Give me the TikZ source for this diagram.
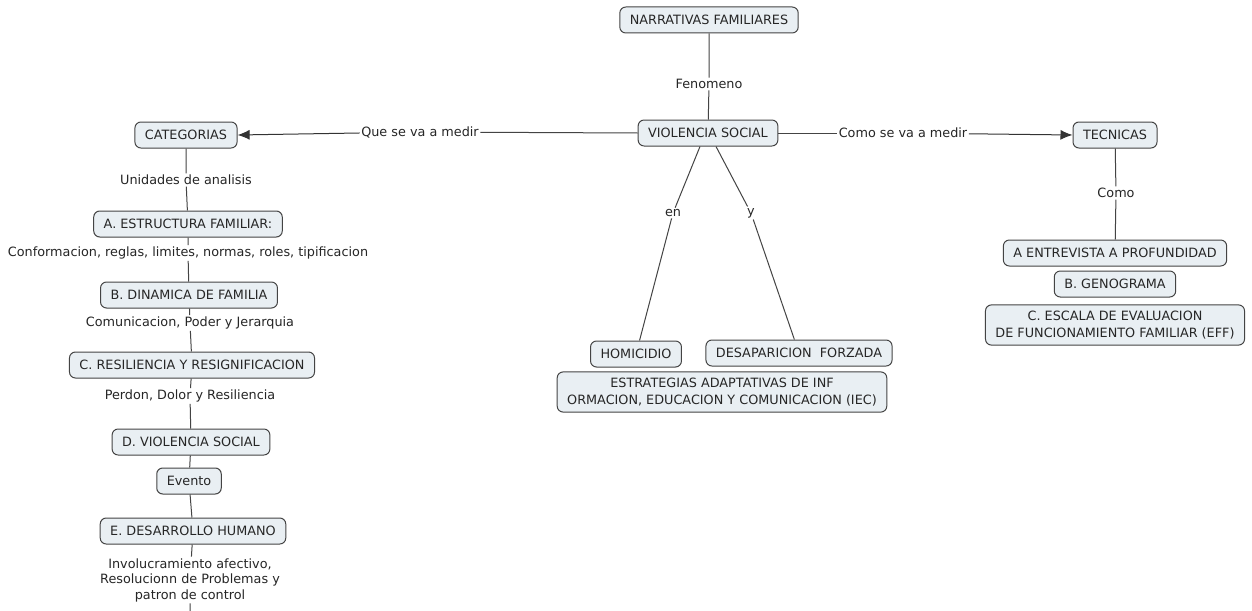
\documentclass[tikz,border=0pt]{standalone}
\usepackage{fontspec}
\setmainfont{DejaVu Sans}
\usetikzlibrary{arrows.meta}
\definecolor{boxfill}{HTML}{E9EFF3}
\definecolor{boxline}{HTML}{444444}
\begin{document}
\begin{tikzpicture}[x=1pt,y=-1pt,
  concept/.style={draw=boxline,fill=boxfill,rounded corners=6pt,line width=1pt,
    inner xsep=10pt,inner ysep=2pt,minimum height=26pt,align=center,text=black!85,font=\fontsize{12.8}{17}\selectfont},
  twoline/.style={inner ysep=6pt},
  linklabel/.style={fill=white,inner sep=1.5pt,align=center,text=black!85,font=\fontsize{12.8}{15.5}\selectfont},
  link/.style={draw=boxline,line width=1pt},
  tip/.style={-{Latex[length=12pt,width=10pt]},draw=black!80}]
\useasboundingbox[fill=white] (0,0) rectangle (1252,610);
% centre
\node[concept] (nf) at (709,20) {NARRATIVAS FAMILIARES};
\node[concept] (vs) at (708,133) {VIOLENCIA SOCIAL};
\node[linklabel] (fen) at (709,84) {Fenomeno};
\draw[link] (nf) -- (fen) -- (vs);
\node[concept] (hom) at (636,354) {HOMICIDIO};
\node[concept] (des) at (799,353) {DESAPARICION\ \ FORZADA};
\node[concept,twoline] (iec) at (722,392) {ESTRATEGIAS ADAPTATIVAS DE INF\\ORMACION, EDUCACION Y COMUNICACION (IEC)};
\node[linklabel] (en) at (673,213) {en};
\node[linklabel] (yy) at (751,213) {y};
\draw[link] ([xshift=-8pt]vs.south) -- (en) -- (hom);
\draw[link] ([xshift=8pt]vs.south) -- (yy) -- (des);
% left column
\node[concept] (cat) at (186,135) {CATEGORIAS};
\node[linklabel] (que) at (420,132) {Que se va a medir};
\draw[link] (vs.west) -- (que);
\draw[link,tip] (que) -- (cat.east);
\node[linklabel] (uni) at (186,180) {Unidades de analisis};
\node[concept] (est) at (188,224) {A. ESTRUCTURA FAMILIAR:};
\node[linklabel] (conf) at (188,253) {Conformacion, reglas, limites, normas, roles, tipificacion};
\node[concept] (din) at (189,295) {B. DINAMICA DE FAMILIA};
\node[linklabel] (com) at (190,323) {Comunicacion, Poder y Jerarquia};
\node[concept] (res) at (192,365) {C. RESILIENCIA Y RESIGNIFICACION};
\node[linklabel] (per) at (190,396) {Perdon, Dolor y Resiliencia};
\node[concept] (dvs) at (191,442) {D. VIOLENCIA SOCIAL};
\node[concept] (eve) at (189,481) {Evento};
\node[concept] (dh) at (193,531) {E. DESARROLLO HUMANO};
\node[linklabel] (inv) at (190,580) {Involucramiento afectivo,\\Resolucionn de Problemas y\\patron de control};
\coordinate (bot) at (190,612);
\draw[link] (cat) -- (uni) -- (est) -- (conf) -- (din) -- (com) -- (res) -- (per) -- (dvs) -- (eve) -- (dh) -- (inv) -- (bot);
% right column
\node[concept] (tec) at (1115,135) {TECNICAS};
\node[linklabel] (cms) at (903,133) {Como se va a medir};
\draw[link] (vs.east) -- (cms);
\draw[link,tip] (cms) -- (tec.west);
\node[linklabel] (como) at (1116,193) {Como};
\node[concept] (ent) at (1115,253) {A ENTREVISTA A PROFUNDIDAD};
\draw[link] (tec) -- (como) -- (ent);
\node[concept] (gen) at (1115,284) {B. GENOGRAMA};
\node[concept,twoline] (eff) at (1115,325) {C. ESCALA DE EVALUACION\\DE FUNCIONAMIENTO FAMILIAR (EFF)};
\end{tikzpicture}
\end{document}
